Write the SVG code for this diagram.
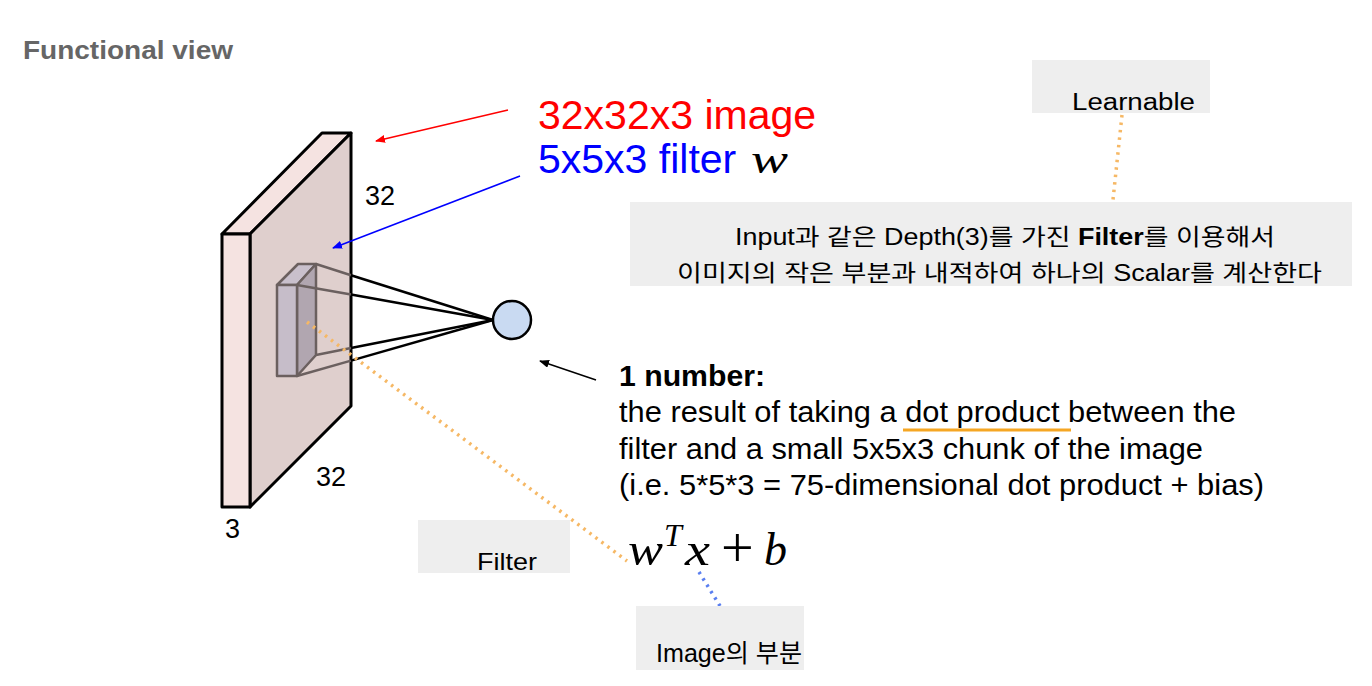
<svg xmlns="http://www.w3.org/2000/svg" width="1372" height="686" viewBox="0 0 1372 686">
<style>
.sans{font-family:"Liberation Sans","Noto Sans CJK KR",Arial,sans-serif;}
.math{font-family:"Liberation Serif","Times New Roman",serif;font-style:italic;fill:#000;}
.box{fill:#eeeeee;}
.dim{font-family:"Liberation Sans",Arial,sans-serif;font-size:27px;fill:#000;}
.body{font-family:"Liberation Sans",Arial,sans-serif;font-size:30px;fill:#000;}
.dotO{stroke:#f6b865;stroke-width:3.5;stroke-dasharray:2.5 5;fill:none;}
.dotB{stroke:#5a7ff0;stroke-width:3.5;stroke-dasharray:2.5 5;fill:none;}
.slab{stroke:#000;stroke-width:3;stroke-linejoin:round;}
.filt{stroke:#6b605f;stroke-width:2.5;stroke-linejoin:round;}
.conG{stroke:#6b605f;stroke-width:2.5;}
.conK{stroke:#000;stroke-width:2.5;}
</style>
<defs>
<marker id="arR" viewBox="0 0 10 8" refX="9" refY="4" markerWidth="10" markerHeight="8" markerUnits="userSpaceOnUse" orient="auto"><path d="M0,0 L10,4 L0,8 z" fill="#ff0000"/></marker>
<marker id="arB" viewBox="0 0 10 8" refX="9" refY="4" markerWidth="10" markerHeight="8" markerUnits="userSpaceOnUse" orient="auto"><path d="M0,0 L10,4 L0,8 z" fill="#0000ff"/></marker>
<marker id="arK" viewBox="0 0 10 8" refX="9" refY="4" markerWidth="10" markerHeight="8" markerUnits="userSpaceOnUse" orient="auto"><path d="M0,0 L10,4 L0,8 z" fill="#000"/></marker>
</defs>
<rect width="1372" height="686" fill="#fff"/>

<g id="title">
<text x="23" y="59" class="sans" font-size="26" font-weight="bold" fill="#666666" textLength="210" lengthAdjust="spacingAndGlyphs">Functional view</text>
</g>

<g id="image-volume">
<polygon class="slab" points="222,234 322,133 351,133 250,234" fill="#f5e3e1"/>
<polygon class="slab" points="250,234 351,133 351,406 250,507" fill="#dfcfcd"/>
<polygon class="slab" points="222,234 250,234 250,507 222,507" fill="#f5e3e1"/>
</g>

<g id="filter-box">
<polygon class="filt" points="277,285 298,264 316,264 297,285" fill="#c9c0cc"/>
<polygon class="filt" points="297,285 316,264 316,355 297,376" fill="#b1a6b0"/>
<polygon class="filt" points="277,285 297,285 297,376 277,376" fill="#c6bdc9"/>
</g>

<g id="connectors">
<line class="conG" x1="316" y1="264" x2="351" y2="275.2"/>
<line class="conK" x1="351" y1="275.2" x2="493" y2="320"/>
<line class="conG" x1="297" y1="285" x2="351" y2="294.6"/>
<line class="conK" x1="351" y1="294.6" x2="493" y2="320"/>
<line class="conG" x1="316" y1="355" x2="351" y2="348.1"/>
<line class="conK" x1="351" y1="348.1" x2="493" y2="320"/>
<line class="conG" x1="297" y1="376" x2="351" y2="360.6"/>
<line class="conK" x1="351" y1="360.6" x2="493" y2="320"/>
<line x1="508" y1="110" x2="376" y2="141" stroke="#ff0000" stroke-width="1.5" marker-end="url(#arR)"/>
<line x1="520" y1="176" x2="333" y2="248" stroke="#0000ff" stroke-width="1.5" marker-end="url(#arB)"/>
<line x1="596" y1="380" x2="540" y2="361" stroke="#000" stroke-width="1.5" marker-end="url(#arK)"/>
<line class="dotO" x1="1122" y1="115" x2="1112" y2="209"/>
<line class="dotO" x1="307" y1="322" x2="627" y2="561"/>
<line class="dotB" x1="699" y1="572" x2="720" y2="606"/>
</g>

<g id="output-neuron">
<circle cx="512" cy="320" r="19" fill="#c9daf2" stroke="#000" stroke-width="2.5"/>
</g>

<g id="dim-labels">
<text class="dim" x="365" y="205">32</text>
<text class="dim" x="316" y="486">32</text>
<text class="dim" x="225" y="538">3</text>
</g>

<g id="image-label">
<text x="538" y="129" class="sans" font-size="41" fill="#ff0000">32x32x3 image</text>
</g>
<g id="filter-label">
<text x="538" y="173" class="sans" font-size="41" fill="#0000ff">5x5x3 filter</text>
<text x="751" y="173" class="math" font-size="40" textLength="37" lengthAdjust="spacingAndGlyphs">w</text>
</g>

<g id="description">
<text class="body" x="619" y="386" font-weight="bold" textLength="146" lengthAdjust="spacingAndGlyphs">1 number:</text>
<text class="body" x="619" y="422" textLength="617" lengthAdjust="spacingAndGlyphs">the result of taking a dot product between the</text>
<text class="body" x="619" y="459" textLength="584" lengthAdjust="spacingAndGlyphs">filter and a small 5x5x3 chunk of the image</text>
<text class="body" x="619" y="495" textLength="645" lengthAdjust="spacingAndGlyphs">(i.e. 5*5*3 = 75-dimensional dot product + bias)</text>
<line x1="903" y1="430" x2="1071" y2="430" stroke="#f5a623" stroke-width="3"/>
</g>

<g id="formula">
<text class="math" x="628" y="565" font-size="46" textLength="35" lengthAdjust="spacingAndGlyphs">w</text>
<text class="math" x="664" y="546" font-size="32">T</text>
<text class="math" x="685" y="565" font-size="46" textLength="25" lengthAdjust="spacingAndGlyphs">x</text>
<text x="721" y="567" font-family="Liberation Serif,serif" font-size="58" fill="#000">+</text>
<text class="math" x="764" y="565" font-size="46">b</text>
</g>

<g id="note-learnable">
<rect class="box" x="1032" y="60" width="178" height="53"/>
<text x="1072" y="110" class="sans" font-size="23" fill="#000" textLength="123" lengthAdjust="spacingAndGlyphs">Learnable</text>
</g>

<g id="note-explain">
<rect class="box" x="630" y="202" width="722" height="84"/>
<text x="735" y="245" class="sans" font-size="23" fill="#000" textLength="540" lengthAdjust="spacingAndGlyphs">Input과 같은 Depth(3)를 가진 <tspan font-weight="bold">Filter</tspan>를 이용해서</text>
<text x="677" y="281" class="sans" font-size="23" fill="#000" textLength="645" lengthAdjust="spacingAndGlyphs">이미지의 작은 부분과 내적하여 하나의 Scalar를 계산한다</text>
</g>

<g id="note-filter">
<rect class="box" x="418" y="520" width="152" height="53"/>
<text x="477" y="570" class="sans" font-size="24" fill="#000" textLength="60" lengthAdjust="spacingAndGlyphs">Filter</text>
</g>

<g id="note-image-part">
<rect class="box" x="636" y="606" width="168" height="64"/>
<text x="656" y="662" class="sans" font-size="25" fill="#000" textLength="146" lengthAdjust="spacingAndGlyphs">Image의 부분</text>
</g>
</svg>
